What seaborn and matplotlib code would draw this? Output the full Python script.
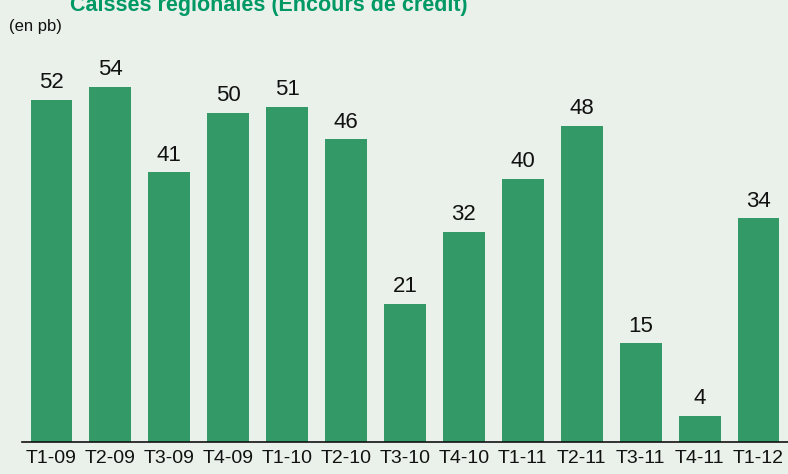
import matplotlib
matplotlib.use("Agg")
import matplotlib.pyplot as plt
import seaborn as sns
import pandas as pd

# Data
quarters = ["T1-09", "T2-09", "T3-09", "T4-09", "T1-10", "T2-10", "T3-10",
            "T4-10", "T1-11", "T2-11", "T3-11", "T4-11", "T1-12"]
cost_bp = [52, 54, 41, 50, 51, 46, 21, 32, 40, 48, 15, 4, 34]

df = pd.DataFrame({"Trimestre": quarters, "Cout": cost_bp})

bg = "#EAF1EA"
bar_color = "#339966"

sns.set_style("white")
plt.rcParams["font.family"] = ["Liberation Sans", "DejaVu Sans"]

fig = plt.figure(figsize=(7.88, 4.74), dpi=100, facecolor=bg)
ax = fig.add_axes([22 / 788, 32 / 474, 766 / 788, 442 / 474])
ax.set_facecolor(bg)

sns.barplot(data=df, x="Trimestre", y="Cout", color=bar_color,
            saturation=1, width=0.71, linewidth=0, ax=ax)

# value labels above bars
for i, v in enumerate(cost_bp):
    ax.text(i, v + 1.8, str(v), ha="center", va="baseline", fontsize=16, color="#111111")

ax.set_xlim(-0.5, len(quarters) - 0.5)
ax.set_ylim(0, 442 / 6.577)
ax.set_xlabel("")
ax.set_ylabel("")
ax.set_yticks([])
ax.tick_params(axis="x", length=0, labelsize=14, pad=6, colors="#111111")
for s in ["top", "right", "left"]:
    ax.spines[s].set_visible(False)
ax.spines["bottom"].set_color("#111111")
ax.spines["bottom"].set_linewidth(1.2)

fig.text(9 / 788, 1 - 31 / 474, "(en pb)", fontsize=12, color="#111111",
         va="baseline", ha="left")
fig.text(269 / 788, 1 - 11 / 474, "Caisses régionales (Encours de crédit)",
         fontsize=15.5, fontweight="bold", color="#009966", ha="center",
         va="baseline")

fig.savefig("out.png", dpi=100, facecolor=bg)
